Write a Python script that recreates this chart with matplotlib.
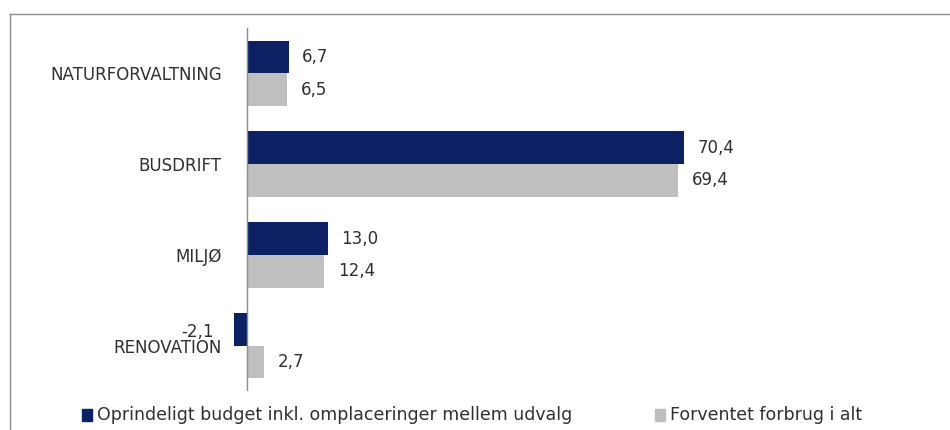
import numpy as np
import matplotlib.pyplot as plt
from matplotlib.patches import Rectangle

categories = ["NATURFORVALTNING", "BUSDRIFT", "MILJØ", "RENOVATION"]
budget = [6.7, 70.4, 13.0, -2.1]
forbrug = [6.5, 69.4, 12.4, 2.7]
series_names = ["Oprindeligt budget inkl. omplaceringer mellem udvalg", "Forventet forbrug i alt"]

dark = "#0b2163"
light = "#bfbfbf"
txt = "#303030"
plt.rcParams['font.family'] = ['DejaVu Sans']

fig = plt.figure(figsize=(9.5, 4.3), dpi=100)
W, H = 950, 430
ax = fig.add_axes([230 / W, 1 - 391 / H, (930 - 230) / W, (391 - 28) / H])

y = np.arange(len(categories))
h = 0.36
ax.barh(y - h / 2, budget, height=h, color=dark)
ax.barh(y + h / 2, forbrug, height=h, color=light)

def fmt(v):
    return f"{v:.1f}".replace(".", ",")

for i in range(len(categories)):
    for v, off in ((budget[i], -h / 2), (forbrug[i], h / 2)):
        if v >= 0:
            ax.text(v + 2.2, y[i] + off, fmt(v), va="center", ha="left", fontsize=12, color=txt)
        else:
            ax.text(v - 3.3, y[i] + off + 0.03, fmt(v), va="center", ha="right", fontsize=12, color=txt)

ax.axvline(0, color="#8c8c8c", lw=1)
ax.set_xlim(-2.74, 110)
ax.set_ylim(3.5, -0.5)
ax.set_xticks([])
ax.set_yticks(y)
ax.set_yticklabels(categories, fontsize=12, color=txt)
ax.tick_params(axis="y", length=0, pad=6)
for s in ax.spines.values():
    s.set_visible(False)

# legend
fig.patches.append(Rectangle((82 / W, 1 - 421 / H), 10 / W, 12 / H, color=dark, transform=fig.transFigure))
fig.text(97 / W, 1 - 415 / H, series_names[0], va="center", ha="left", fontsize=12.5, color=txt)
fig.patches.append(Rectangle((655 / W, 1 - 421 / H), 10 / W, 12 / H, color=light, transform=fig.transFigure))
fig.text(670 / W, 1 - 415 / H, series_names[1], va="center", ha="left", fontsize=12.5, color=txt)

# chart frame
fig.lines.append(plt.Line2D([10 / W, 10 / W], [0, 1 - 14 / H], color="#8c8c8c", lw=1, transform=fig.transFigure))
fig.lines.append(plt.Line2D([10 / W, 1], [1 - 14 / H, 1 - 14 / H], color="#8c8c8c", lw=1, transform=fig.transFigure))

fig.savefig("out.png", dpi=100)
